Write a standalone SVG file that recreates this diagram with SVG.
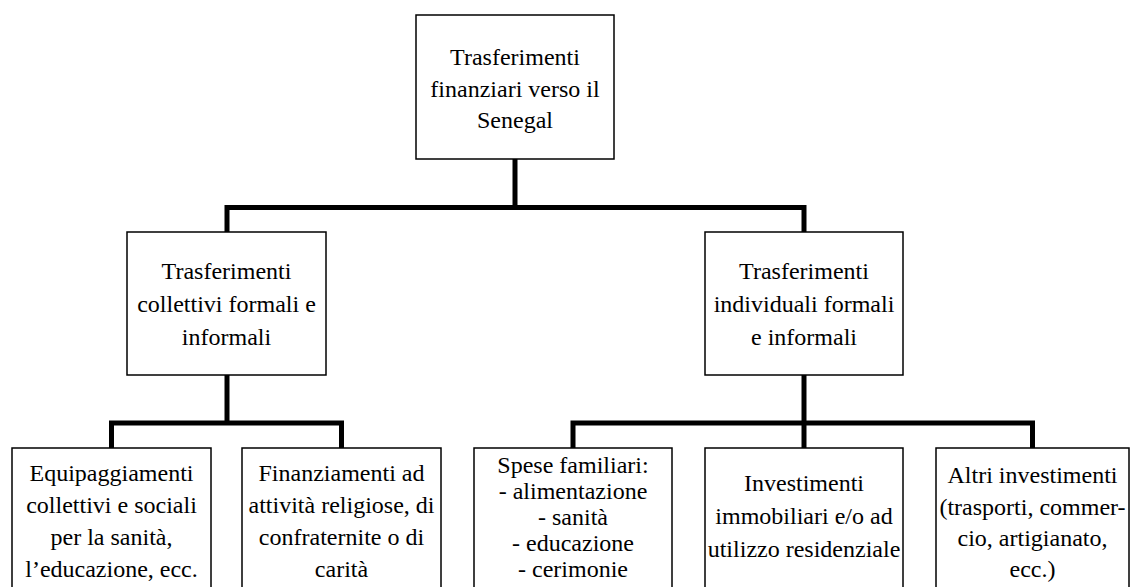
<svg xmlns="http://www.w3.org/2000/svg" width="1130" height="587" viewBox="0 0 1130 587">
  <style>
    .box { fill: #ffffff; stroke: #000000; stroke-width: 1.5; }
    .conn { fill: none; stroke: #000000; stroke-width: 5; stroke-linejoin: miter; }
    text { font-family: "Liberation Serif", "Times New Roman", serif; font-size: 24px; fill: #000000; text-anchor: middle; }
  </style>
  <rect x="0" y="0" width="1130" height="587" fill="#ffffff"/>
  <g id="connectors">
    <path class="conn" d="M515 159 V207.5"/>
    <path class="conn" d="M227 232 V207.5 H804 V232"/>
    <path class="conn" d="M227 375 V423"/>
    <path class="conn" d="M111.5 448 V423 H341.5 V448"/>
    <path class="conn" d="M804 375 V448"/>
    <path class="conn" d="M573 448 V423 H1032.5 V448"/>
  </g>
  <g id="root">
    <rect class="box" x="416" y="15" width="198" height="144"/>
    <text x="515" y="65">Trasferimenti</text>
    <text x="515" y="97">finanziari verso il</text>
    <text x="515" y="128">Senegal</text>
  </g>
  <g id="collettivi">
    <rect class="box" x="127" y="232" width="199" height="143"/>
    <text x="226.5" y="279">Trasferimenti</text>
    <text x="226.5" y="312">collettivi formali e</text>
    <text x="226.5" y="345">informali</text>
  </g>
  <g id="individuali">
    <rect class="box" x="705" y="232" width="198" height="143"/>
    <text x="804" y="279">Trasferimenti</text>
    <text x="804" y="312">individuali formali</text>
    <text x="804" y="345">e informali</text>
  </g>
  <g id="equipaggiamenti">
    <rect class="box" x="12" y="448" width="199" height="150"/>
    <text x="111.5" y="481">Equipaggiamenti</text>
    <text x="111.5" y="513">collettivi e sociali</text>
    <text x="111.5" y="545">per la sanità,</text>
    <text x="111.5" y="577">l’educazione, ecc.</text>
  </g>
  <g id="finanziamenti">
    <rect class="box" x="242" y="448" width="199" height="150"/>
    <text x="341.5" y="481">Finanziamenti ad</text>
    <text x="341.5" y="513">attività religiose, di</text>
    <text x="341.5" y="545">confraternite o di</text>
    <text x="341.5" y="577">carità</text>
  </g>
  <g id="spese">
    <rect class="box" x="474" y="448" width="198" height="150"/>
    <text x="573" y="473">Spese familiari:</text>
    <text x="573" y="499">- alimentazione</text>
    <text x="573" y="525">- sanità</text>
    <text x="573" y="551">- educazione</text>
    <text x="573" y="577">- cerimonie</text>
  </g>
  <g id="immobiliari">
    <rect class="box" x="705" y="448" width="198" height="150"/>
    <text x="804" y="491">Investimenti</text>
    <text x="804" y="524">immobiliari e/o ad</text>
    <text x="804" y="557">utilizzo residenziale</text>
  </g>
  <g id="altri">
    <rect class="box" x="936" y="448" width="193" height="150"/>
    <text x="1032.5" y="483">Altri investimenti</text>
    <text x="1032.5" y="515">(trasporti, commer-</text>
    <text x="1032.5" y="546">cio, artigianato,</text>
    <text x="1032.5" y="577">ecc.)</text>
  </g>
</svg>
